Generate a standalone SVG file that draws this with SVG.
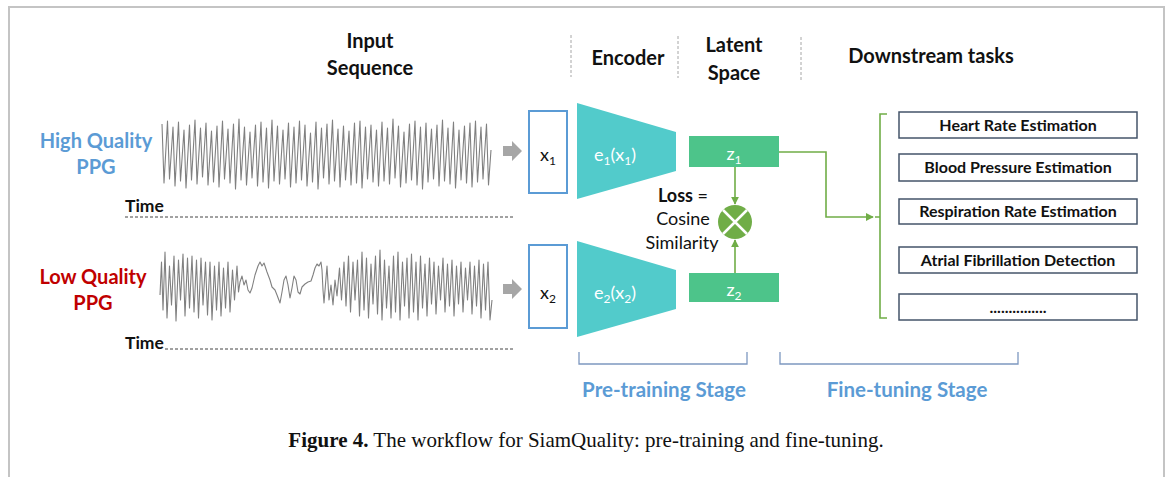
<svg xmlns="http://www.w3.org/2000/svg" width="1168" height="477" viewBox="0 0 1168 477">
  <style>
    .hd { font-family: Lato, "Open Sans", "Liberation Sans", sans-serif; font-weight: bold; font-size: 20px; fill: #111; text-anchor: middle; }
    .lbl { font-family: Lato, "Open Sans", "Liberation Sans", sans-serif; font-size: 18px; text-anchor: middle; }
    .task { font-family: Lato, "Open Sans", "Liberation Sans", sans-serif; font-weight: bold; font-size: 16px; fill: #111; text-anchor: middle; }
    .stage { font-family: Lato, "Open Sans", "Liberation Sans", sans-serif; font-weight: bold; font-size: 20.5px; fill: #5b9bd5; text-anchor: middle; }
    .sep { stroke: #a6a6a6; stroke-width: 1; stroke-dasharray: 3 2; fill: none; }
    .axis { stroke: #444; stroke-width: 1; stroke-dasharray: 3 2; fill: none; }
    .wave { stroke: #808080; stroke-width: 1.1; fill: none; stroke-linejoin: round; }
    .xbox { fill: #fff; stroke: #5b9bd5; stroke-width: 2; }
    .enc { fill: #52cbcb; }
    .lat { fill: #4dc48a; }
    .tbox { fill: #fff; stroke: #44546a; stroke-width: 1.5; }
    .conn { stroke: #70ad47; stroke-width: 1.6; fill: none; }
    .brk { stroke: #7d98c0; stroke-width: 1.3; fill: none; }
    .garrow { fill: #a6a6a6; }
  </style>
  <defs>
    <marker id="ah" viewBox="0 0 10 10" refX="9" refY="5" markerWidth="5" markerHeight="5" orient="auto-start-reverse">
      <path d="M0,0 L10,5 L0,10 z" fill="#70ad47"/>
    </marker>
  </defs>

  <rect width="1168" height="477" fill="#fff"/>
  <!-- page frame -->
  <path d="M9,477 V7 H1164 V477" fill="none" stroke="#c4c4c4" stroke-width="2"/>

  <!-- column headings -->
  <g id="headings">
    <text class="hd" x="370" y="48">Input</text>
    <text class="hd" x="370" y="75">Sequence</text>
    <text class="hd" x="628" y="65">Encoder</text>
    <text class="hd" x="734" y="52">Latent</text>
    <text class="hd" x="734" y="80">Space</text>
    <text class="hd" x="931" y="63">Downstream tasks</text>
    <line class="sep" x1="571" y1="35" x2="571" y2="77"/>
    <line class="sep" x1="678" y1="36" x2="678" y2="78"/>
    <line class="sep" x1="801" y1="37" x2="801" y2="80"/>
  </g>

  <!-- high quality input signal -->
  <g id="hq-signal">
    <text class="hd" x="96" y="148" style="fill:#5b9bd5">High Quality</text>
    <text class="hd" x="96" y="174" style="fill:#5b9bd5">PPG</text>
    <polyline class="wave" points="162,124 164,183 167.5,121 169.5,179 173,127 175,186 178.5,122 180.5,181 184,130 186,188 189.5,125 191.5,180 195,120 197,184 200.5,128 202.5,177 206,123 208,185 211.5,131 213.5,182 217,126 219,187 222.5,121 224.5,179 228,129 230,183 233.5,124 235.5,189 239,119 241,180 244.5,127 246.5,185 250,132 252,178 255.5,125 257.5,186 261,122 263,182 266.5,128 268.5,188 272,120 274,181 277.5,126 279.5,184 283,130 285,179 288.5,123 290.5,187 294,127 296,183 299.5,121 301.5,180 305,125 307,186 310.5,133 312.5,182 316,122 318,189 321.5,128 323.5,178 327,124 329,184 332.5,120 334.5,181 338,129 340,187 343.5,126 345.5,180 349,131 351,185 354.5,123 356.5,183 360,121 362,188 365.5,127 367.5,179 371,125 373,182 376.5,130 378.5,186 382,122 384,181 387.5,128 389.5,184 393,119 395,178 398.5,126 400.5,187 404,132 406,183 409.5,124 411.5,180 415,121 417,185 420.5,127 422.5,189 426,123 428,182 431.5,129 433.5,179 437,125 439,186 442.5,120 444.5,181 448,128 450,184 453.5,122 455.5,188 459,130 461,180 464.5,126 466.5,183 470,123 472,187 475.5,121 477.5,182 481,127 483,179 486.5,124 488.5,185 491,150"/>
    <text class="lbl" x="125" y="212" style="font-weight:bold;text-anchor:start;fill:#111;font-size:17.5px">Time</text>
    <line class="axis" x1="125" y1="217" x2="513" y2="217"/>
    <polygon class="garrow" points="503,146 512,146 512,141 522,151 512,161 512,156 503,156"/>
  </g>

  <!-- low quality input signal -->
  <g id="lq-signal">
    <text class="hd" x="93" y="284" style="fill:#c00000">Low Quality</text>
    <text class="hd" x="93" y="310" style="fill:#c00000">PPG</text>
    <polyline class="wave" points="160,295 161.5,262 163,310 165,252 167,318 169.5,266 171.5,305 174,256 176,321 178.5,260 180.5,300 183,254 185,316 187.5,258 189.5,308 192,256 194,312 196.5,260 198.5,318 201,258 203,305 205.5,262 207.5,315 210,262 212,320 214.5,266 216.5,310 219,262 221,316 223.5,268 225.5,308 228,262 230,312 232.5,270 234.5,300 237,266 238.5,292 240,282 242,276 244,285 246,280 248,290 250,293 252,288 255,275 258,266 260,262 262,266 264,263 267,272 270,280 272,287 275,290 277,295 280,303 282,292 284,280 286,276 288,285 290,298 292,288 294,276 296,280 298,292 300,294 302,287 305,284 308,282 311,281 313,275 315,268 317,264 319,266 321,262 322,270 323,290 324,303 326,278 327,266 329,300 331,285 333,305 335,280 337,296 339.5,268 341.5,300 344,262 346,306 348.5,256 350.5,312 353,262 355,300 357.5,260 359.5,316 362,252 364,310 366.5,258 368.5,318 371,264 373,304 375.5,256 377.5,314 380,250 382,320 384.5,260 386.5,308 389,266 391,318 393.5,256 395.5,312 398,252 400,320 402.5,262 404.5,306 407,258 409,318 411.5,254 413.5,312 416,262 418,320 420.5,256 422.5,308 425,264 427,316 429.5,258 431.5,304 434,262 436,314 438.5,266 440.5,300 443,258 445,312 447.5,264 449.5,306 452,260 454,316 456.5,266 458.5,304 461,262 463,312 465.5,268 467.5,300 470,262 472,314 474.5,266 476.5,306 479,260 481,318 483.5,264 485.5,310 488,262 490,320 492,300"/>
    <text class="lbl" x="125" y="349" style="font-weight:bold;text-anchor:start;fill:#111;font-size:17.5px">Time</text>
    <line class="axis" x1="165" y1="349" x2="513" y2="349"/>
    <polygon class="garrow" points="503,284 512,284 512,279 522,289 512,299 512,294 503,294"/>
  </g>

  <!-- inputs -->
  <g id="x1">
    <rect class="xbox" x="529" y="111" width="38" height="82"/>
    <text class="lbl" x="548" y="161" fill="#111">x<tspan font-size="12" dy="4">1</tspan></text>
  </g>
  <g id="x2">
    <rect class="xbox" x="529" y="245" width="38" height="83"/>
    <text class="lbl" x="548" y="299" fill="#111">x<tspan font-size="12" dy="4">2</tspan></text>
  </g>

  <!-- encoders -->
  <g id="encoder1">
    <polygon class="enc" points="577,103 676,132 676,171 577,199"/>
    <text class="lbl" x="615" y="161" fill="#fff" font-size="19">e<tspan font-size="12" dy="4">1</tspan><tspan dy="-4">(x</tspan><tspan font-size="12" dy="4">1</tspan><tspan dy="-4">)</tspan></text>
  </g>
  <g id="encoder2">
    <polygon class="enc" points="577,241 676,270 676,309 577,337"/>
    <text class="lbl" x="615" y="299" fill="#fff" font-size="19">e<tspan font-size="12" dy="4">2</tspan><tspan dy="-4">(x</tspan><tspan font-size="12" dy="4">2</tspan><tspan dy="-4">)</tspan></text>
  </g>

  <!-- latent vectors -->
  <g id="z1">
    <rect class="lat" x="689" y="136" width="90" height="31"/>
    <text class="lbl" x="734" y="160" fill="#fff">z<tspan font-size="12" dy="4">1</tspan></text>
  </g>
  <g id="z2">
    <rect class="lat" x="689" y="273" width="90" height="29"/>
    <text class="lbl" x="734" y="296" fill="#fff">z<tspan font-size="12" dy="4">2</tspan></text>
  </g>

  <!-- similarity loss -->
  <g id="loss">
    <circle cx="735" cy="222" r="17" fill="#70ad47"/>
    <path d="M723,210 L747,234 M747,210 L723,234" stroke="#fff" stroke-width="2.5"/>
    <text class="lbl" x="683" y="202" fill="#111"><tspan font-weight="bold">Loss</tspan> =</text>
    <text class="lbl" x="683" y="225" fill="#111">Cosine</text>
    <text class="lbl" x="682" y="249" fill="#111">Similarity</text>
  </g>

  <!-- downstream tasks -->
  <g id="task-hr">
    <rect class="tbox" x="899" y="112" width="238" height="26"/>
    <text class="task" x="1018" y="131">Heart Rate Estimation</text>
  </g>
  <g id="task-bp">
    <rect class="tbox" x="899" y="154" width="238" height="27"/>
    <text class="task" x="1018" y="173">Blood Pressure Estimation</text>
  </g>
  <g id="task-rr">
    <rect class="tbox" x="899" y="199" width="238" height="25"/>
    <text class="task" x="1018" y="217">Respiration Rate Estimation</text>
  </g>
  <g id="task-af">
    <rect class="tbox" x="899" y="247" width="238" height="26"/>
    <text class="task" x="1018" y="266">Atrial Fibrillation Detection</text>
  </g>
  <g id="task-more">
    <rect class="tbox" x="899" y="294" width="238" height="26"/>
    <text class="task" x="1018" y="313">...............</text>
  </g>

  <!-- connectors -->
  <g id="connectors">
    <line class="conn" x1="735" y1="167" x2="735" y2="204" marker-end="url(#ah)"/>
    <line class="conn" x1="735" y1="273" x2="735" y2="240" marker-end="url(#ah)"/>
    <polyline class="conn" points="779,152 826,152 826,217 873,217" marker-end="url(#ah)"/>
    <path class="conn" d="M887,114 H880 V318 H887 M875,217 H880"/>
  </g>

  <!-- stage brackets -->
  <g id="stages">
    <path class="brk" d="M579,352 V364 H747 V352"/>
    <path class="brk" d="M780,352 V364 H1018 V352"/>
    <text class="stage" x="664" y="397">Pre-training Stage</text>
    <text class="stage" x="907" y="397">Fine-tuning Stage</text>
  </g>

  <!-- caption -->
  <g id="caption">
    <text x="586" y="447" text-anchor="middle" font-family="'Liberation Serif', 'DejaVu Serif', serif" font-size="21" fill="#111"><tspan font-weight="bold">Figure 4.</tspan> The workflow for SiamQuality: pre-training and fine-tuning.</text>
  </g>
</svg>
